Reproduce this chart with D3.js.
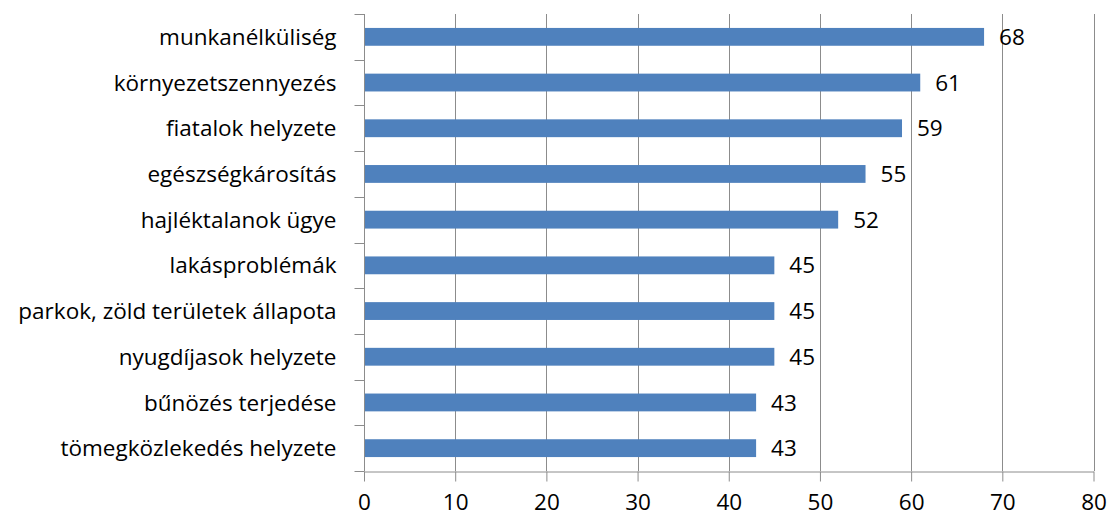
<!DOCTYPE html>
<html>
<head>
<meta charset="utf-8">
<script src="https://cdn.jsdelivr.net/npm/d3@7"></script>
<style>
  body { margin: 0; background: #fff; }
  text { font-family: "Open Sans", sans-serif; fill: #000; }
</style>
</head>
<body>
<div class="chart"></div>
<script>
// categories top to bottom
var categories = [
    "munkanélküliség",
    "környezetszennyezés",
    "fiatalok helyzete",
    "egészségkárosítás",
    "hajléktalanok ügye",
    "lakásproblémák",
    "parkok, zöld területek állapota",
    "nyugdíjasok helyzete",
    "bűnözés terjedése",
    "tömegközlekedés helyzete"
];
var values = [68, 61, 59, 55, 52, 45, 45, 45, 43, 43];
var xTicks = [0, 10, 20, 30, 40, 50, 60, 70, 80];

var width = 1110,
    height = 515,
    plotLeft = 364,
    plotRight = 1093.5,
    plotTop = 14,
    plotBottom = 471,
    fontSize = "22.5px",
    gridColor = "#8c8c8c";

var svg = d3.select(".chart").append("svg")
    .attr("width", width)
    .attr("height", height);

var x = d3.scaleLinear().domain([0, 80]).range([plotLeft, plotRight]);
var y = d3.scaleBand().domain(categories).range([plotTop, plotBottom]).paddingInner(0.61).paddingOuter(0.305);

// vertical gridlines
svg.append("g").selectAll("line")
    .data(xTicks.slice(1))
    .enter().append("line")
    .attr("x1", function(d) { return Math.round(x(d)) + 0.5; })
    .attr("x2", function(d) { return Math.round(x(d)) + 0.5; })
    .attr("y1", plotTop)
    .attr("y2", plotBottom)
    .attr("stroke", gridColor)
    .attr("stroke-width", 1);

// bars
svg.append("g").selectAll("rect")
    .data(values)
    .enter().append("rect")
    .attr("x", x(0))
    .attr("y", function(d, i) { return y(categories[i]); })
    .attr("width", function(d) { return x(d) - x(0); })
    .attr("height", y.bandwidth())
    .attr("fill", "#4f81bd");

// value labels
svg.append("g").selectAll("text")
    .data(values)
    .enter().append("text")
    .attr("x", function(d) { return x(d) + 15; })
    .attr("y", function(d, i) { return y(categories[i]) + y.bandwidth() / 2; })
    .attr("dy", "0.36em")
    .style("font-size", fontSize)
    .text(function(d) { return d; });

// x axis
var xAxis = svg.append("g")
    .attr("transform", "translate(0," + (plotBottom + 0.5) + ")")
    .call(d3.axisBottom(x).tickValues(xTicks).tickSize(10).tickPadding(13).tickSizeOuter(0));
xAxis.select(".domain").attr("stroke", gridColor);
xAxis.selectAll(".tick line").attr("stroke", gridColor);
xAxis.selectAll(".tick text").style("font-size", fontSize).style("font-family", "'Open Sans', sans-serif").attr("fill", "#000");

// y axis: ticks sit on the band boundaries
var yAxis = svg.append("g").attr("transform", "translate(" + (plotLeft + 0.5) + ",0)");
yAxis.append("line")
    .attr("y1", plotTop).attr("y2", plotBottom)
    .attr("stroke", gridColor);
yAxis.selectAll(".btick")
    .data(d3.range(categories.length + 1))
    .enter().append("line")
    .attr("class", "btick")
    .attr("x1", -10).attr("x2", 0)
    .attr("y1", function(i) { return Math.round(plotTop + i * (plotBottom - plotTop) / categories.length) + 0.5; })
    .attr("y2", function(i) { return Math.round(plotTop + i * (plotBottom - plotTop) / categories.length) + 0.5; })
    .attr("stroke", gridColor);
yAxis.selectAll(".clabel")
    .data(categories)
    .enter().append("text")
    .attr("class", "clabel")
    .attr("x", -28)
    .attr("y", function(d) { return y(d) + y.bandwidth() / 2; })
    .attr("dy", "0.36em")
    .attr("text-anchor", "end")
    .style("font-size", fontSize)
    .text(function(d) { return d; });
</script>
</body>
</html>
